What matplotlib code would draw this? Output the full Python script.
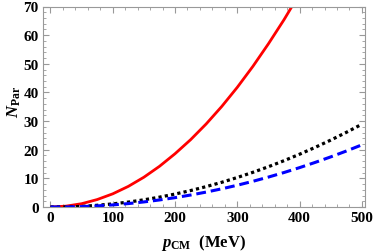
import matplotlib
matplotlib.use("Agg")
import matplotlib.pyplot as plt
from matplotlib.ticker import MultipleLocator

# 数据
p_cm = [0, 25, 50, 75, 100, 125, 150, 175, 200, 225, 250, 275, 300,
        325, 350, 375, 400, 425, 450, 475, 500]
n_red = [0, 0.3, 1.15, 2.6, 4.6, 7.2, 10.4, 14.2, 18.6, 23.5, 29.0, 35.1, 41.8,
         49.1, 57.0, 65.4, 74.5]
n_black = [0, 0.02, 0.2, 0.6, 1.09, 1.72, 2.51, 3.44, 4.52, 5.74, 7.12, 8.63, 10.3,
           12.11, 14.07, 16.17, 18.43, 20.82, 23.36, 26.06, 28.9]
n_blue = [0, 0.01, 0.14, 0.38, 0.73, 1.19, 1.77, 2.46, 3.26, 4.18, 5.21, 6.35, 7.6,
          8.97, 10.45, 12.04, 13.75, 15.57, 17.5, 19.54, 21.7]

plt.rcParams['font.family'] = ['Liberation Serif', 'DejaVu Serif']
plt.rcParams['font.weight'] = 'bold'
plt.rcParams['mathtext.fontset'] = 'custom'
plt.rcParams['mathtext.rm'] = 'Liberation Serif:bold'
plt.rcParams['mathtext.it'] = 'Liberation Serif:italic:bold'
plt.rcParams['mathtext.bf'] = 'Liberation Serif:bold'

fig = plt.figure(figsize=(3.74, 2.53), dpi=100)
ax = fig.add_axes([43 / 374, 45 / 253, 322 / 374, 200.5 / 253])

ax.plot(p_cm[:len(n_red)], n_red, color='#ff0000', lw=2.0, solid_capstyle='butt')
ax.plot(p_cm, n_black, color='black', lw=2.3, linestyle=(0, (1, 1)))
ax.plot(p_cm, n_blue, color='#0000ff', lw=2.2, linestyle=(0, (3.2, 1.6)))

ax.set_xlim(-12, 505)
ax.set_ylim(0, 70)

ax.xaxis.set_major_locator(MultipleLocator(100))
ax.xaxis.set_minor_locator(MultipleLocator(20))
ax.yaxis.set_major_locator(MultipleLocator(10))
ax.yaxis.set_minor_locator(MultipleLocator(2))

gray = '#999999'
for s in ax.spines.values():
    s.set_color(gray)
    s.set_linewidth(0.8)
ax.tick_params(which='both', direction='in', top=True, right=True, color=gray,
               labelsize=11, pad=3)
ax.tick_params(which='major', length=4.5, width=0.8)
ax.tick_params(which='minor', length=2.5, width=0.6)
for lab in ax.get_xticklabels() + ax.get_yticklabels():
    lab.set_fontweight('bold')

ax.set_xlabel(r'$p_{\rm CM}$  (MeV)', fontsize=12, fontweight='bold', labelpad=6)
ax.set_ylabel(r'$N_{\rm Par}$', fontsize=12, fontweight='bold')
ax.yaxis.set_label_coords(-0.062, 0.53)

fig.savefig('out.png', dpi=100)
